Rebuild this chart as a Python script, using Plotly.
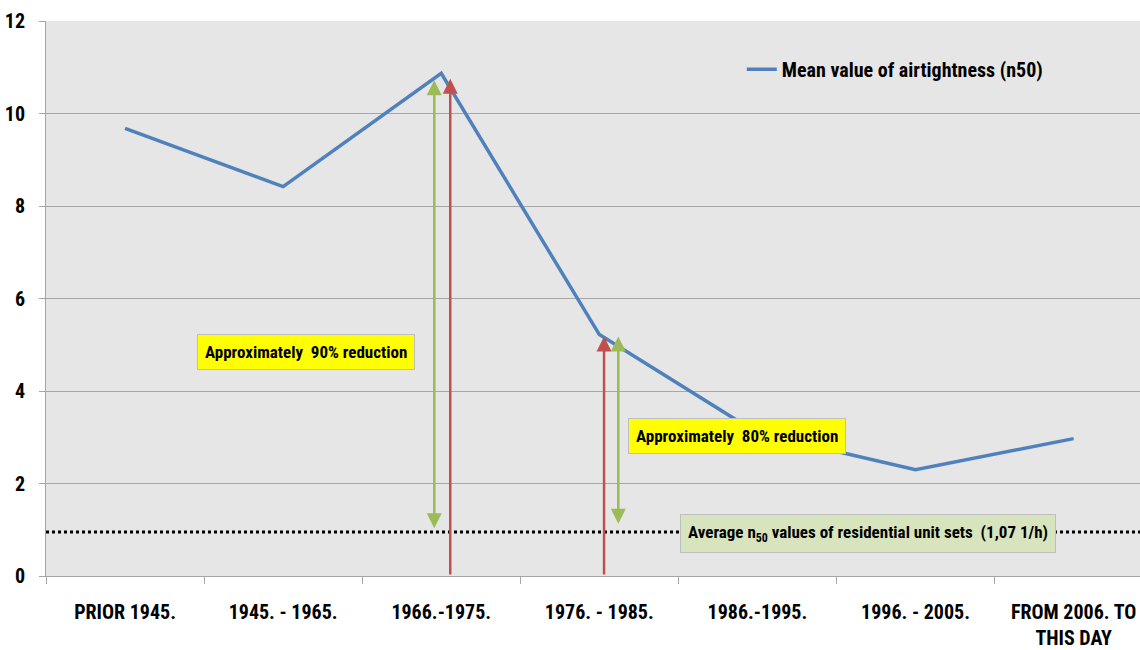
import plotly.graph_objects as go

categories = ["PRIOR 1945.", "1945. - 1965.", "1966.-1975.", "1976. - 1985.",
              "1986.-1995.", "1996. - 2005.", "FROM 2006. TO<br>THIS DAY"]
mean_n50 = [9.68, 8.42, 10.87, 5.22, 3.09, 2.30, 2.97]
avg_residential = 0.95
series_name = "Mean value of airtightness (n50)"
label_90 = "Approximately  90% reduction"
label_80 = "Approximately  80% reduction"
label_avg = "Average n<sub>50</sub> values of residential unit sets  (1,07 1/h)"

xpos = list(range(len(categories)))
FONT = "Liberation Sans Narrow, Arial Narrow, Roboto Condensed, sans-serif"
BLUE = "#4f81bd"
RED = "#c0504d"
GREEN = "#9bbb59"

fig = go.Figure()
fig.add_trace(go.Scatter(x=xpos, y=mean_n50, mode="lines",
                         name="<b>" + series_name + "</b>",
                         line=dict(color=BLUE, width=3.5), showlegend=True))

fig.add_shape(type="line", xref="paper", x0=0, x1=1, yref="y",
              y0=avg_residential, y1=avg_residential,
              line=dict(color="black", width=3, dash="dot"))

def arrow(x, y_head, y_tail, color, both=False):
    fig.add_annotation(x=x, y=y_head, ax=x, ay=y_tail, xref="x", yref="y",
                       axref="x", ayref="y", text="", showarrow=True,
                       arrowhead=2, arrowsize=1.2, arrowwidth=2.5,
                       arrowcolor=color, startarrowhead=2, startarrowsize=1.2,
                       arrowside="end+start" if both else "end")

arrow(1.956, 10.72, 1.0, GREEN, both=True)
arrow(2.057, 10.75, 0.0, RED)
arrow(3.03, 5.18, 0.0, RED)
arrow(3.12, 5.18, 1.1, GREEN, both=True)

def box(x, y, text, bg):
    fig.add_annotation(x=x, y=y, xref="x", yref="y", text="<b>" + text + "</b>",
                       showarrow=False, bgcolor=bg, bordercolor="#bfbfbf",
                       borderwidth=1, borderpad=7,
                       font=dict(family=FONT, size=17, color="black"))

box(1.146, 4.85, label_90, "#ffff00")
box(3.87, 3.03, label_80, "#ffff00")
box(4.70, 0.92, label_avg, "#d7e4bd")

fig.update_layout(
    width=1140, height=650,
    margin=dict(l=46, r=0, t=21, b=68),
    paper_bgcolor="white", plot_bgcolor="#e6e6e6",
    font=dict(family=FONT, size=16, color="black"),
    legend=dict(x=0.636, y=0.913, xanchor="left", yanchor="middle",
                bgcolor="rgba(0,0,0,0)", font=dict(size=20, family=FONT),
                itemwidth=30),
    xaxis=dict(range=[-0.5, 6.42], tickvals=xpos,
               ticktext=["<b>" + c.replace("<br>", "</b><br><b>") + "</b>" for c in categories],
               ticks="", showgrid=False, showline=True, linecolor="#a6a6a6",
               linewidth=1, zeroline=False, ticklabelstandoff=18,
               tickfont=dict(size=20),
               minor=dict(tick0=0.5, dtick=1, ticks="outside", ticklen=7,
                          tickcolor="#a6a6a6", showgrid=False)),
    yaxis=dict(range=[0, 12], tickvals=[0, 2, 4, 6, 8, 10, 12],
               ticktext=["<b>%d</b>" % v for v in [0, 2, 4, 6, 8, 10, 12]],
               ticks="outside", ticklen=6, tickcolor="#a6a6a6",
               showgrid=True, gridcolor="#a6a6a6", gridwidth=1,
               showline=True, linecolor="#a6a6a6", zeroline=False,
               ticklabelstandoff=10, tickfont=dict(size=20)),
)

fig.write_html("out.html", config={"displayModeBar": False},
               post_script="document.body.style.margin='0';document.body.style.overflow='hidden';")
